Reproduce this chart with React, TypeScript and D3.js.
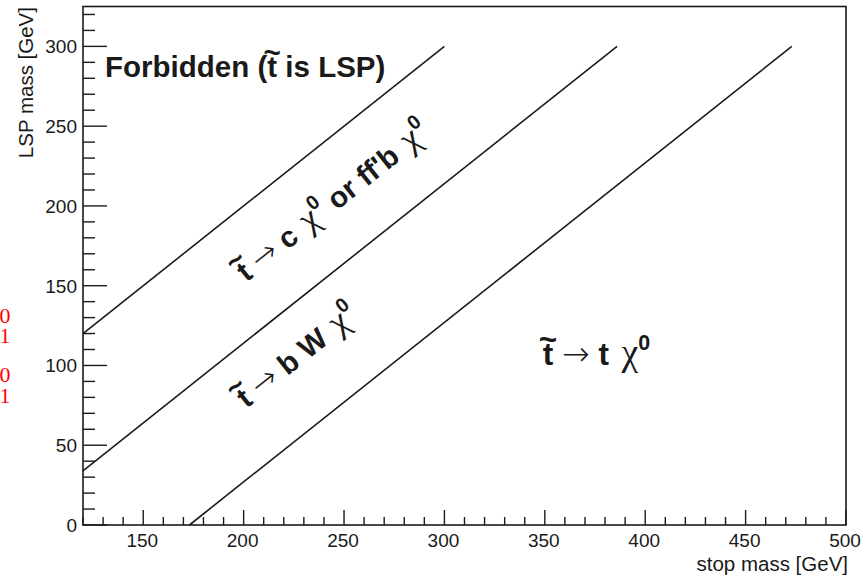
import React from "react";
import * as d3 from "d3";

const WIDTH = 865;
const HEIGHT = 577;
const margin = { left: 83, right: 19, top: 6.5, bottom: 52 };

// Axis ranges and ticks
const stopMassDomain: [number, number] = [120, 500];
const lspMassDomain: [number, number] = [0, 325];
const xMajorTicks = [150, 200, 250, 300, 350, 400, 450, 500];
const yMajorTicks = [0, 50, 100, 150, 200, 250, 300];
const minorStep = 10;

// Kinematic boundaries (end points): m(stop) = m(LSP), m(stop) = m(LSP) + mW + mb, m(stop) = m(LSP) + mt
const boundaryStop = [
  [120, 300],
  [120, 386],
  [173, 473],
];
const boundaryLsp = [
  [120, 300],
  [34, 300],
  [0, 300],
];

// Region label anchors (stop mass, LSP mass)
const regionLabelStop = [131, 200, 200, 347];
const regionLabelLsp = [281, 150.5, 71.5, 100];

type Part = [string, string];
// label pieces: "b" bold text, "stop" t with tilde, "arrow", "chi", "sup"
const forbiddenLabel: Part[] = [["b", "Forbidden ("], ["stop", "t"], ["b", " is LSP)"]];
const charmLabel: Part[] = [
  ["stop", "t"], ["b", " "], ["arrow", "→"], ["b", " c "], ["chi", "χ"], ["sup", "0"],
  ["b", " or ff'b "], ["chi", "χ"], ["sup", "0"],
];
const fourBodyLabel: Part[] = [
  ["stop", "t"], ["b", " "], ["arrow", "→"], ["b", " b W "], ["chi", "χ"], ["sup", "0"],
];
const twoBodyLabel: Part[] = [
  ["stop", "t"], ["b", " "], ["arrow", "→"], ["b", " t "], ["chi", "χ"], ["sup", "0"],
];

const SANS = "'Liberation Sans', Arial, Helvetica, sans-serif";
const SERIF = "'Liberation Serif', 'Times New Roman', serif";
const ARROW_FONT = "'DejaVu Sans', sans-serif";
const INK = "#1a1a1a";
const LABEL_SIZE = 29.5;
const HORIZONTAL_LABEL_SIZE = 31.5;

// Builds tspans for a small piece of math-like markup
function latexSpans(parts: Part[], fs: number) {
  const out: React.ReactNode[] = [];
  let shift = 0; // current baseline offset in px
  let pendingDx = 0;
  parts.forEach(([kind, txt], i) => {
    let target = 0;
    let extraDx = 0;
    const props: Record<string, any> = {};
    if (kind === "sup") {
      target = -0.5 * fs;
      props.fontSize = 0.68 * fs;
    } else if (kind === "chi") {
      props.fontFamily = SERIF;
      props.fontWeight = "normal";
      props.fontSize = 1.2 * fs;
      extraDx = 0.12 * fs;
    } else if (kind === "arrow") {
      props.fontFamily = ARROW_FONT;
      props.fontWeight = 200;
      props.fontSize = 1.05 * fs;
      target = -0.02 * fs;
    }
    const dy = target - shift;
    shift = target;
    const dx = pendingDx + extraDx;
    out.push(
      <tspan key={i + "a"} dx={dx || undefined} dy={dy || undefined} {...props}>
        {txt}
      </tspan>
    );
    pendingDx = 0;
    if (kind === "stop") {
      // tilde centred over the t (Helvetica bold widths: t 0.333, ~ 0.584)
      const tildeLift = -0.5 * fs;
      out.push(
        <tspan key={i + "t"} dx={-((0.333 + 0.584) / 2) * fs} dy={tildeLift - shift}>
          ~
        </tspan>
      );
      shift = tildeLift;
      pendingDx = -((0.584 - 0.333) / 2) * fs;
    }
  });
  return out;
}

export default function App() {
  const x = d3
    .scaleLinear()
    .domain(stopMassDomain)
    .range([margin.left, WIDTH - margin.right]);
  const y = d3
    .scaleLinear()
    .domain(lspMassDomain)
    .range([HEIGHT - margin.bottom, margin.top]);

  const x0 = x.range()[0];
  const x1 = x.range()[1];
  const yBottom = y.range()[0];
  const yTop = y.range()[1];

  const xMinor = d3
    .range(stopMassDomain[0], stopMassDomain[1] + 1, minorStep)
    .filter((v) => !xMajorTicks.includes(v));
  const yMinor = d3
    .range(lspMassDomain[0], lspMassDomain[1] + 1, minorStep)
    .filter((v) => !yMajorTicks.includes(v));

  const line = d3
    .line<[number, number]>()
    .x((d) => x(d[0]))
    .y((d) => y(d[1]));

  // slope of the diagonal boundaries on screen
  const angle = (-Math.atan2(y(0) - y(1), x(1) - x(0)) * 180) / Math.PI;

  const labelPos = regionLabelStop.map((s, i) => [x(s), y(regionLabelLsp[i])]);

  return (
    <svg
      width={WIDTH}
      height={HEIGHT}
      style={{ position: "absolute", left: 0, top: 0, background: "#fff" }}
    >
      <rect width={WIDTH} height={HEIGHT} fill="#fff" />

      {/* boundary lines */}
      {boundaryStop.map((s, i) => (
        <path
          key={i}
          d={
            line([
              [s[0], boundaryLsp[i][0]],
              [s[1], boundaryLsp[i][1]],
            ]) as string
          }
          fill="none"
          stroke={INK}
          strokeWidth={1.6}
        />
      ))}

      {/* frame */}
      <rect
        x={x0}
        y={yTop}
        width={x1 - x0}
        height={yBottom - yTop}
        fill="none"
        stroke={INK}
        strokeWidth={1.6}
      />

      {/* x ticks */}
      {xMajorTicks.map((v) => (
        <line key={"xM" + v} x1={x(v)} x2={x(v)} y1={yBottom} y2={yBottom - 15} stroke={INK} strokeWidth={1.4} />
      ))}
      {xMinor.map((v) => (
        <line key={"xm" + v} x1={x(v)} x2={x(v)} y1={yBottom} y2={yBottom - 8} stroke={INK} strokeWidth={1.4} />
      ))}
      {/* y ticks */}
      {yMajorTicks.map((v) => (
        <line key={"yM" + v} x1={x0} x2={x0 + 24} y1={y(v)} y2={y(v)} stroke={INK} strokeWidth={1.4} />
      ))}
      {yMinor.map((v) => (
        <line key={"ym" + v} x1={x0} x2={x0 + 12} y1={y(v)} y2={y(v)} stroke={INK} strokeWidth={1.4} />
      ))}

      {/* tick labels */}
      <g fontFamily={SANS} fontSize={19} fill={INK}>
        {xMajorTicks.map((v) => (
          <text key={"xl" + v} x={x(v) - 1} y={yBottom + 21.5} textAnchor="middle">
            {v}
          </text>
        ))}
        {yMajorTicks.map((v) => (
          <text key={"yl" + v} x={x0 - 6} y={y(v)} dy="0.36em" textAnchor="end">
            {v}
          </text>
        ))}
      </g>

      {/* axis titles */}
      <text x={x1 + 2} y={570.5} textAnchor="end" fontFamily={SANS} fontSize={20.5} fill={INK}>
        stop mass [GeV]
      </text>
      <text
        transform={`translate(33,${yTop + 0.5}) rotate(-90)`}
        textAnchor="end"
        fontFamily={SANS}
        fontSize={20.5}
        fill={INK}
      >
        LSP mass [GeV]
      </text>

      {/* region labels */}
      <g fontFamily={SANS} fontWeight="bold" fill={INK}>
        <text x={labelPos[0][0]} y={labelPos[0][1]} fontSize={LABEL_SIZE}>
          {latexSpans(forbiddenLabel, LABEL_SIZE)}
        </text>
        <text
          transform={`translate(${labelPos[1][0]},${labelPos[1][1]}) rotate(${angle})`}
          fontSize={LABEL_SIZE}
        >
          {latexSpans(charmLabel, LABEL_SIZE)}
        </text>
        <text
          transform={`translate(${labelPos[2][0]},${labelPos[2][1]}) rotate(${angle})`}
          fontSize={LABEL_SIZE}
        >
          {latexSpans(fourBodyLabel, LABEL_SIZE)}
        </text>
        <text x={labelPos[3][0]} y={labelPos[3][1]} fontSize={HORIZONTAL_LABEL_SIZE}>
          {latexSpans(twoBodyLabel, HORIZONTAL_LABEL_SIZE)}
        </text>
      </g>

      {/* neutralino indices rendered in the margin */}
      <g fontFamily={SERIF} fontSize={22} fill="#ff0000">
        <text x={-0.5} y={323}>0</text>
        <text x={-0.5} y={343}>1</text>
        <text x={-0.5} y={382}>0</text>
        <text x={-0.5} y={403}>1</text>
      </g>
    </svg>
  );
}
